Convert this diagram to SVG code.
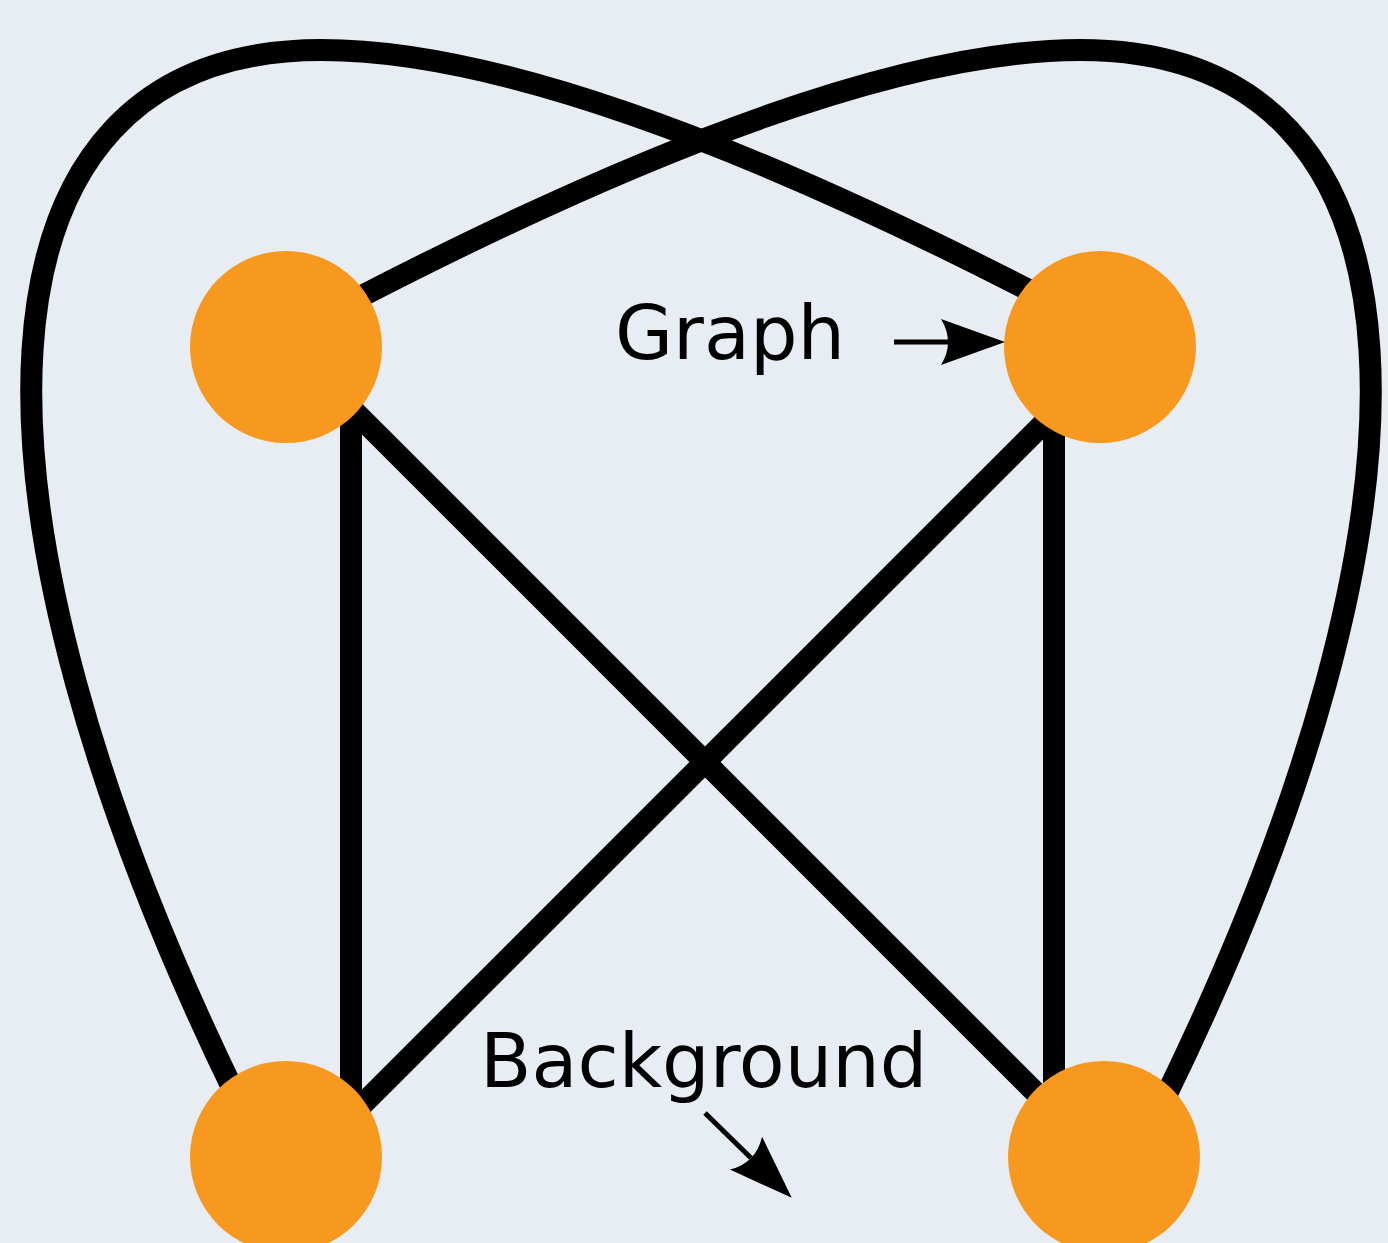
<svg xmlns="http://www.w3.org/2000/svg" width="1388" height="1243" viewBox="0 0 1388 1243">
<style>
.edge{fill:none;stroke:#000;stroke-width:22;stroke-linecap:butt;stroke-linejoin:round}
.node{fill:#F8991F}
.lbl{font-family:"DejaVu Sans","Liberation Sans",sans-serif;font-size:75px;fill:#000}
.ptr{fill:none;stroke:#000;stroke-width:5}
</style>
<defs>
<marker id="ah" markerUnits="userSpaceOnUse" markerWidth="66" markerHeight="48" viewBox="0 0 66 48" refX="8" refY="24" orient="auto" overflow="visible">
<path d="M1,1 L65,24 L1,47 Q15,24 1,1 Z" fill="#000"/>
</marker>
</defs>
<rect width="1388" height="1243" fill="#E8EDF4"/>
<g id="edges">
<path class="edge" d="M238,1100 C-55,500 -45,50 322,50 C470,50 700,120 1040,296"/>
<path class="edge" d="M1164,1100 C1457,500 1447,50 1080,50 C932,50 702,120 356,299"/>
<line class="edge" x1="351" y1="400" x2="351" y2="1110"/>
<line class="edge" x1="1054" y1="405" x2="1054" y2="1110"/>
<line class="edge" x1="351" y1="408" x2="1054" y2="1111"/>
<line class="edge" x1="1054" y1="413" x2="351" y2="1116"/>
</g>
<g id="node-tl"><circle class="node" cx="286" cy="347" r="96"/></g>
<g id="node-tr"><circle class="node" cx="1100" cy="347" r="96"/></g>
<g id="node-bl"><circle class="node" cx="286" cy="1157" r="96"/></g>
<g id="node-br"><circle class="node" cx="1104" cy="1157" r="96"/></g>
<g id="label-graph">
<text class="lbl" x="615" y="359">Graph</text>
<line class="ptr" x1="894" y1="342" x2="948" y2="342" marker-end="url(#ah)"/>
</g>
<g id="label-background">
<text class="lbl" x="480" y="1087">Background</text>
<line class="ptr" x1="705" y1="1113" x2="751" y2="1158" marker-end="url(#ah)"/>
</g>
</svg>
